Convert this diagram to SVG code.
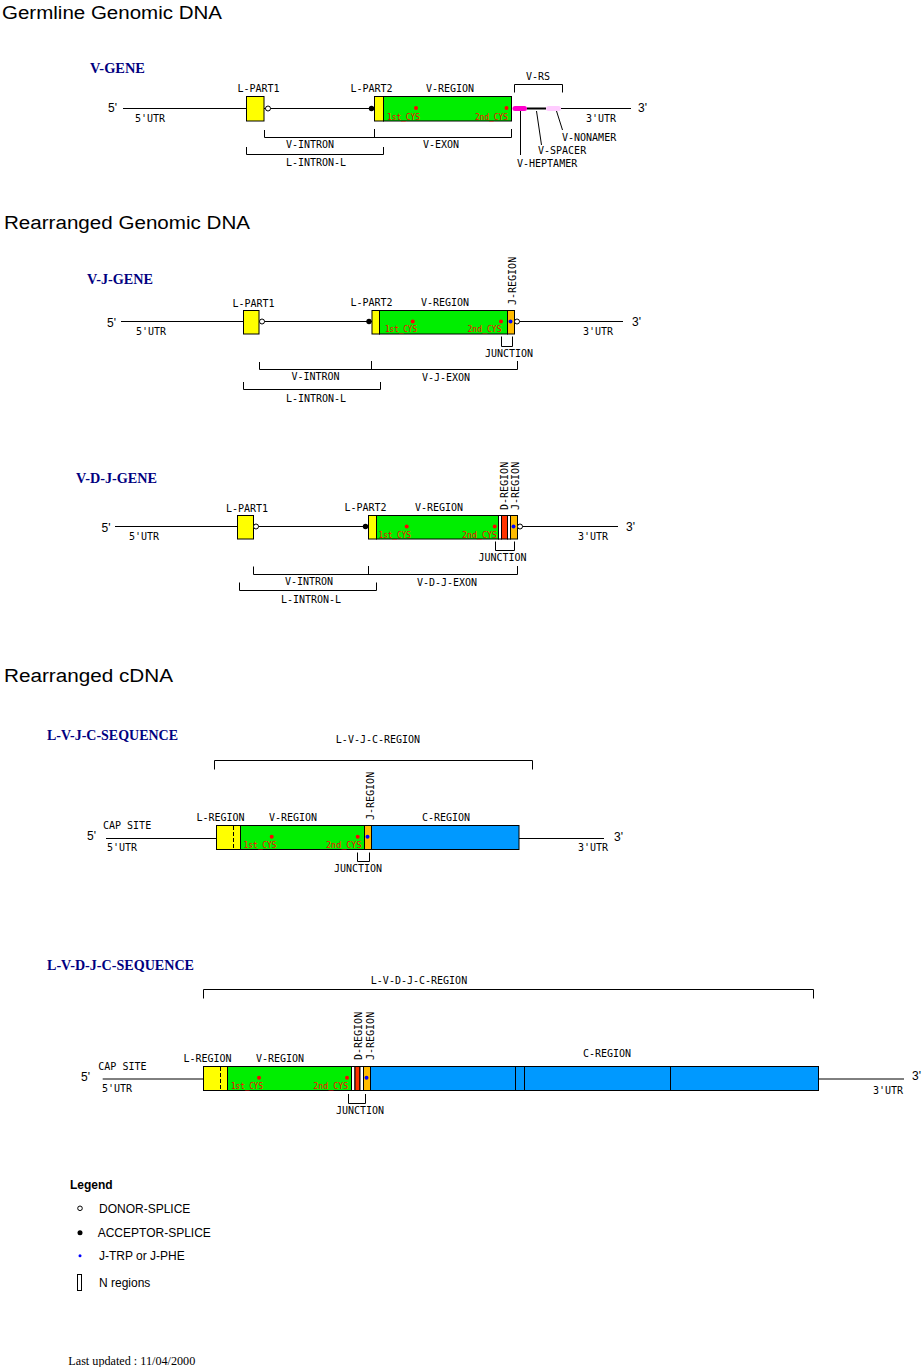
<svg xmlns="http://www.w3.org/2000/svg" width="924" height="1367" viewBox="0 0 924 1367">
<style>
.bg{fill:#fff}
.h{font-family:"Liberation Sans",Arial,sans-serif;font-size:18px;fill:#000}
.t{font-family:"Liberation Serif","Times New Roman",serif;font-weight:bold;font-size:14px;fill:#000080}
.l{font-family:"DejaVu Sans Mono",monospace;font-size:10px;fill:#000}
.c{text-anchor:middle}
.p{font-family:"Liberation Sans",Arial,sans-serif;font-size:12px;fill:#000}
.r{font-family:"DejaVu Sans Mono",monospace;font-size:9.5px;fill:#ff0000}
.ln{stroke:#000;stroke-width:1;fill:none}
.bx{stroke:#000;stroke-width:1}
.y{fill:#ffff00}
.g{fill:#00ee00}
.o{fill:#ffbb00}
.d{fill:#ff3300}
.b{fill:#0099ff}
.w{fill:#fff}
.don{fill:#fff;stroke:#000;stroke-width:1}
.acc{fill:#000}
.rd{fill:#ff0000}
.bd{fill:#0000ff}
.lg{font-family:"Liberation Sans",Arial,sans-serif;font-size:12px;fill:#000}
</style>
<rect class="bg" x="0" y="0" width="924" height="1367"/>

<!-- Section headers -->
<text class="h" x="2" y="19" textLength="220" lengthAdjust="spacingAndGlyphs">Germline Genomic DNA</text>
<text class="h" x="4" y="229" textLength="246" lengthAdjust="spacingAndGlyphs">Rearranged Genomic DNA</text>
<text class="h" x="4" y="682" textLength="169" lengthAdjust="spacingAndGlyphs">Rearranged cDNA</text>

<!-- ===== Germline V-GENE ===== -->
<g id="v-gene">
  <text class="t" x="90" y="73" textLength="55" lengthAdjust="spacingAndGlyphs">V-GENE</text>
  <line class="ln" x1="123" y1="108.5" x2="246" y2="108.5"/>
  <line class="ln" x1="264" y1="108.5" x2="374" y2="108.5"/>
  <line class="ln" x1="561" y1="108.5" x2="631" y2="108.5"/>
  <rect class="bx y" x="246.5" y="96.5" width="17.5" height="24.5"/>
  <rect class="bx y" x="374.5" y="96.5" width="9" height="24.5"/>
  <rect class="bx g" x="383.5" y="96.5" width="128" height="24.5"/>
  <circle class="don" cx="268" cy="108.5" r="2.5"/>
  <circle class="acc" cx="371.5" cy="108.5" r="2.7"/>
  <circle class="rd" cx="416" cy="108" r="2"/>
  <circle class="rd" cx="506.5" cy="108" r="2"/>
  <text class="r" x="387" y="119.5" textLength="33" lengthAdjust="spacingAndGlyphs">1st_CYS</text>
  <text class="r" x="475" y="119.5" textLength="33" lengthAdjust="spacingAndGlyphs">2nd_CYS</text>
  <line x1="527" y1="108.5" x2="546" y2="108.5" stroke="#000" stroke-width="2"/>
  <rect x="512.5" y="106" width="14.5" height="5" rx="2.5" fill="#ff00cc"/>
  <rect x="546" y="106" width="15" height="5" rx="2.5" fill="#ffccff"/>
  <text class="p" x="108" y="112">5'</text>
  <text class="l" x="135" y="122">5'UTR</text>
  <text class="l c" x="258.5" y="92">L-PART1</text>
  <text class="l c" x="371.5" y="92">L-PART2</text>
  <text class="l c" x="450" y="92">V-REGION</text>
  <text class="l c" x="538" y="80">V-RS</text>
  <text class="l" x="586" y="122">3'UTR</text>
  <text class="p" x="638" y="112">3'</text>
  <text class="l c" x="310" y="148">V-INTRON</text>
  <text class="l c" x="441" y="148">V-EXON</text>
  <text class="l c" x="316" y="166">L-INTRON-L</text>
  <text class="l" x="562" y="141">V-NONAMER</text>
  <text class="l" x="538" y="154">V-SPACER</text>
  <text class="l" x="517" y="167">V-HEPTAMER</text>
</g>

<!-- ===== V-J-GENE ===== -->
<g id="v-j-gene">
  <text class="t" x="87" y="284" textLength="66" lengthAdjust="spacingAndGlyphs">V-J-GENE</text>
  <line class="ln" x1="121" y1="321.5" x2="243" y2="321.5"/>
  <line class="ln" x1="259" y1="321.5" x2="372" y2="321.5"/>
  <line class="ln" x1="514" y1="321.5" x2="623" y2="321.5"/>
  <rect class="bx y" x="243.5" y="310.5" width="15.5" height="23.5"/>
  <rect class="bx y" x="372" y="310.5" width="7.5" height="23.5"/>
  <rect class="bx g" x="379.5" y="310.5" width="128" height="23.5"/>
  <rect class="bx o" x="507.5" y="310.5" width="7" height="23.5"/>
  <circle class="don" cx="262" cy="321.5" r="2.5"/>
  <circle class="acc" cx="369" cy="321.5" r="2.7"/>
  <circle class="don" cx="517" cy="321.5" r="2.5"/>
  <circle class="rd" cx="412.7" cy="321.5" r="2"/>
  <circle class="rd" cx="501" cy="321.5" r="2"/>
  <circle class="bd" cx="510.5" cy="321.5" r="2"/>
  <text class="r" x="385" y="332" textLength="32" lengthAdjust="spacingAndGlyphs">1st_CYS</text>
  <text class="r" x="467.5" y="332" textLength="34" lengthAdjust="spacingAndGlyphs">2nd_CYS</text>
  <text class="p" x="107" y="327">5'</text>
  <text class="l" x="136" y="335">5'UTR</text>
  <text class="l c" x="253.5" y="307">L-PART1</text>
  <text class="l c" x="371.5" y="306">L-PART2</text>
  <text class="l c" x="445" y="306">V-REGION</text>
  <text class="l" transform="translate(516,305) rotate(-90)">J-REGION</text>
  <text class="l" x="583" y="335">3'UTR</text>
  <text class="p" x="632" y="326">3'</text>
  <text class="l c" x="509" y="357">JUNCTION</text>
  <text class="l c" x="315.5" y="380">V-INTRON</text>
  <text class="l c" x="446" y="381">V-J-EXON</text>
  <text class="l c" x="316" y="402">L-INTRON-L</text>
</g>

<!-- ===== V-D-J-GENE ===== -->
<g id="v-d-j-gene">
  <text class="t" x="76" y="483" textLength="81" lengthAdjust="spacingAndGlyphs">V-D-J-GENE</text>
  <line class="ln" x1="115" y1="526.5" x2="237" y2="526.5"/>
  <line class="ln" x1="253" y1="526.5" x2="368" y2="526.5"/>
  <line class="ln" x1="517" y1="526.5" x2="618" y2="526.5"/>
  <rect class="bx y" x="237.5" y="515.5" width="16" height="23.5"/>
  <rect class="bx y" x="368.5" y="515.5" width="8" height="23.5"/>
  <rect class="bx g" x="376.5" y="515.5" width="122" height="23.5"/>
  <rect class="bx w" x="498.5" y="515.5" width="3" height="23.5"/>
  <rect class="bx d" x="501.5" y="515.5" width="6" height="23.5"/>
  <rect class="bx w" x="507.5" y="515.5" width="3" height="23.5"/>
  <rect class="bx o" x="510.5" y="515.5" width="7" height="23.5"/>
  <circle class="don" cx="256" cy="526.5" r="2.5"/>
  <circle class="acc" cx="365.5" cy="526.5" r="2.7"/>
  <circle class="don" cx="520" cy="526.5" r="2.5"/>
  <circle class="rd" cx="406.7" cy="526.5" r="2"/>
  <circle class="rd" cx="494.7" cy="526.5" r="2"/>
  <circle class="bd" cx="513.5" cy="526.5" r="2"/>
  <text class="r" x="378.5" y="537.5" textLength="32.5" lengthAdjust="spacingAndGlyphs">1st_CYS</text>
  <text class="r" x="462" y="537.5" textLength="35" lengthAdjust="spacingAndGlyphs">2nd_CYS</text>
  <text class="p" x="101.5" y="532">5'</text>
  <text class="l" x="129" y="540">5'UTR</text>
  <text class="l c" x="247" y="512">L-PART1</text>
  <text class="l c" x="365.5" y="511">L-PART2</text>
  <text class="l c" x="439" y="511">V-REGION</text>
  <text class="l" transform="translate(508,510) rotate(-90)">D-REGION</text>
  <text class="l" transform="translate(519,510) rotate(-90)">J-REGION</text>
  <text class="l" x="578" y="540">3'UTR</text>
  <text class="p" x="626" y="531">3'</text>
  <text class="l c" x="502.5" y="561">JUNCTION</text>
  <text class="l c" x="309" y="585">V-INTRON</text>
  <text class="l c" x="447" y="586">V-D-J-EXON</text>
  <text class="l c" x="311" y="603">L-INTRON-L</text>
</g>

<!-- ===== L-V-J-C-SEQUENCE ===== -->
<g id="l-v-j-c-sequence">
  <text class="t" x="47" y="740" textLength="131" lengthAdjust="spacingAndGlyphs">L-V-J-C-SEQUENCE</text>
  <text class="l c" x="378" y="743">L-V-J-C-REGION</text>
  <line class="ln" x1="106" y1="838.5" x2="216" y2="838.5"/>
  <line class="ln" x1="519" y1="838.5" x2="604" y2="838.5"/>
  <rect class="bx y" x="216.5" y="825.5" width="24" height="24"/>
  <line x1="233.5" y1="826" x2="233.5" y2="849" stroke="#000" stroke-width="1" stroke-dasharray="4,2"/>
  <rect class="bx g" x="240.5" y="825.5" width="124" height="24"/>
  <rect class="bx o" x="364.5" y="825.5" width="7" height="24"/>
  <rect class="bx b" x="371.5" y="825.5" width="147.5" height="24"/>
  <circle class="rd" cx="271.7" cy="836.7" r="2"/>
  <circle class="rd" cx="357.7" cy="836.7" r="2"/>
  <circle class="bd" cx="367.5" cy="836.7" r="2"/>
  <text class="r" x="243.5" y="847.5" textLength="33" lengthAdjust="spacingAndGlyphs">1st_CYS</text>
  <text class="r" x="326" y="847.5" textLength="35.5" lengthAdjust="spacingAndGlyphs">2nd_CYS</text>
  <text class="p" x="87" y="840">5'</text>
  <text class="l" x="103" y="829">CAP SITE</text>
  <text class="l" x="107" y="851">5'UTR</text>
  <text class="l c" x="220.5" y="821">L-REGION</text>
  <text class="l c" x="293" y="821">V-REGION</text>
  <text class="l" transform="translate(374,820) rotate(-90)">J-REGION</text>
  <text class="l c" x="446" y="821">C-REGION</text>
  <text class="l" x="578" y="851">3'UTR</text>
  <text class="p" x="614" y="841">3'</text>
  <text class="l c" x="358" y="872">JUNCTION</text>
</g>

<!-- ===== L-V-D-J-C-SEQUENCE ===== -->
<g id="l-v-d-j-c-sequence">
  <text class="t" x="47" y="970" textLength="147" lengthAdjust="spacingAndGlyphs">L-V-D-J-C-SEQUENCE</text>
  <text class="l c" x="419" y="984">L-V-D-J-C-REGION</text>
  <line class="ln" x1="102.7" y1="1079" x2="203" y2="1079"/>
  <line class="ln" x1="818" y1="1079" x2="904" y2="1079"/>
  <rect class="bx y" x="203.5" y="1066.5" width="24" height="24"/>
  <line x1="220.5" y1="1067" x2="220.5" y2="1090" stroke="#000" stroke-width="1" stroke-dasharray="4,2"/>
  <rect class="bx g" x="227.5" y="1066.5" width="124" height="24"/>
  <rect class="bx w" x="351.5" y="1066.5" width="3.5" height="24"/>
  <rect class="bx d" x="355" y="1066.5" width="5" height="24"/>
  <rect class="bx w" x="360" y="1066.5" width="3.5" height="24"/>
  <rect class="bx o" x="363.5" y="1066.5" width="7" height="24"/>
  <rect class="bx b" x="370.5" y="1066.5" width="448" height="24"/>
  <line class="ln" x1="515.5" y1="1066.5" x2="515.5" y2="1090.5"/>
  <line class="ln" x1="524.5" y1="1066.5" x2="524.5" y2="1090.5"/>
  <line class="ln" x1="670.5" y1="1066.5" x2="670.5" y2="1090.5"/>
  <circle class="rd" cx="259" cy="1077.7" r="2"/>
  <circle class="rd" cx="347" cy="1077.7" r="2"/>
  <circle class="bd" cx="366.5" cy="1077.7" r="2"/>
  <text class="r" x="231" y="1088.5" textLength="32" lengthAdjust="spacingAndGlyphs">1st_CYS</text>
  <text class="r" x="313.3" y="1088.5" textLength="35" lengthAdjust="spacingAndGlyphs">2nd_CYS</text>
  <text class="p" x="81" y="1081">5'</text>
  <text class="l" x="98.3" y="1070">CAP SITE</text>
  <text class="l" x="102" y="1091.5">5'UTR</text>
  <text class="l c" x="207.5" y="1062">L-REGION</text>
  <text class="l c" x="280" y="1062">V-REGION</text>
  <text class="l" transform="translate(361.5,1060) rotate(-90)">D-REGION</text>
  <text class="l" transform="translate(373.5,1060) rotate(-90)">J-REGION</text>
  <text class="l c" x="607" y="1057">C-REGION</text>
  <text class="l" x="873" y="1094">3'UTR</text>
  <text class="p" x="912" y="1080">3'</text>
  <text class="l c" x="360" y="1114">JUNCTION</text>
</g>

<!-- ===== Brackets / connectors ===== -->
<g id="connectors" class="ln">
  <!-- germline -->
  <polyline points="514.5,92.5 514.5,84.5 562.5,84.5 562.5,92.5"/>
  <polyline points="264.5,130 264.5,137.5 511.5,137.5 511.5,129"/>
  <line x1="374.5" y1="129" x2="374.5" y2="137.5"/>
  <polyline points="246.5,147 246.5,154.5 383.5,154.5 383.5,147"/>
  <line x1="520.5" y1="111" x2="520.5" y2="155"/>
  <line x1="536.5" y1="111" x2="541.5" y2="145"/>
  <line x1="556.5" y1="111" x2="562.5" y2="130"/>
  <!-- V-J -->
  <polyline points="501.5,336.5 501.5,346.5 512.5,346.5 512.5,336.5"/>
  <polyline points="259.5,362 259.5,369.5 517.5,369.5 517.5,361"/>
  <line x1="371.5" y1="361" x2="371.5" y2="369.5"/>
  <polyline points="243.5,382 243.5,389.5 380.5,389.5 380.5,382"/>
  <!-- V-D-J -->
  <polyline points="495.5,541.5 495.5,550.5 514.5,550.5 514.5,541.5"/>
  <polyline points="253.5,566.5 253.5,574.5 517.5,574.5 517.5,566"/>
  <line x1="368.5" y1="566" x2="368.5" y2="574.5"/>
  <polyline points="239.5,582.5 239.5,590.5 376.5,590.5 376.5,582.5"/>
  <!-- L-V-J-C -->
  <polyline points="214.5,769.5 214.5,760.5 532.5,760.5 532.5,769.5"/>
  <polyline points="357.5,852.5 357.5,861.5 369.5,861.5 369.5,852.5"/>
  <!-- L-V-D-J-C -->
  <polyline points="203.5,998.5 203.5,989.5 813.5,989.5 813.5,998.5"/>
  <polyline points="348.5,1094 348.5,1103.5 365.5,1103.5 365.5,1094"/>
</g>

<!-- ===== Legend ===== -->
<g id="legend">
  <text class="lg" x="70" y="1188.5" font-weight="bold">Legend</text>
  <circle class="don" cx="80" cy="1208.3" r="2.3"/>
  <text class="lg" x="99" y="1212.5">DONOR-SPLICE</text>
  <circle class="acc" cx="80" cy="1232.7" r="2.5"/>
  <text class="lg" x="97.7" y="1236.5">ACCEPTOR-SPLICE</text>
  <circle class="bd" cx="80" cy="1255.7" r="1.5"/>
  <text class="lg" x="99" y="1260">J-TRP or J-PHE</text>
  <rect x="77.5" y="1274.5" width="4" height="16" fill="#fff" stroke="#000" stroke-width="1"/>
  <text class="lg" x="99" y="1287">N regions</text>
  <text x="68.3" y="1365" font-family="'Liberation Serif','Times New Roman',serif" font-size="12px" fill="#000" textLength="127" lengthAdjust="spacingAndGlyphs">Last updated : 11/04/2000</text>
</g>
</svg>
